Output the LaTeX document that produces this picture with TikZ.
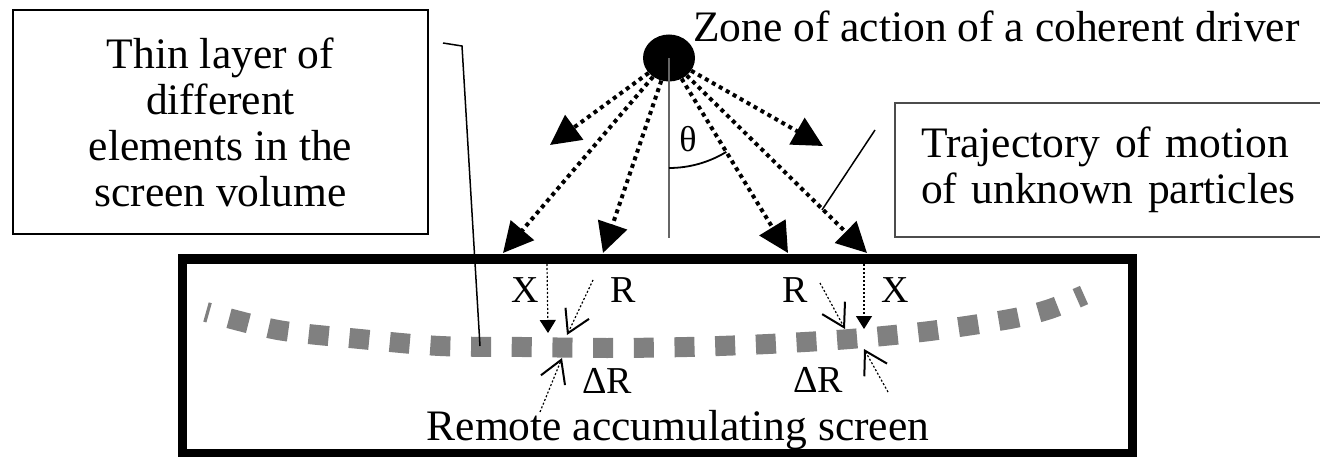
\documentclass[tikz,border=0pt]{standalone}
\usepackage{fontspec}
\setmainfont{Liberation Serif}
\usetikzlibrary{arrows.meta,shapes.geometric}
\definecolor{layergray}{rgb}{0.50,0.50,0.50}
\definecolor{axisgray}{rgb}{0.40,0.40,0.40}
\definecolor{framegray}{rgb}{0.30,0.30,0.30}
\tikzset{
  textbox/.style={
    draw,
    line width=2pt,
    align=center,
    inner sep=0pt,
    font=\fontsize{43.5}{46}\selectfont
  },
  title/.style={
    inner sep=0pt,
    font=\fontsize{43.5}{46}\selectfont
  },
  lbl/.style={
    inner sep=0pt,
    font=\fontsize{38}{40}\selectfont
  },
  ray/.style={
    line width=4pt,
    dash pattern=on 4pt off 4pt,
    -{Triangle[length=30pt,width=30pt]}
  },
  pin/.style={
    line width=1.2pt,
    dash pattern=on 2pt off 2pt,
    -{Triangle[length=13pt,width=16pt]}
  },
  barb/.style={
    line width=1.2pt,
    dash pattern=on 2pt off 2pt,
    -{Straight Barb[length=22pt,width=26pt,line width=2pt]}
  },
  layer/.style={
    layergray,
    line width=20pt,
    dash pattern=on 20pt off 20.7pt,
    dash phase=16.8pt
  }
}

\begin{document}
\begin{tikzpicture}[x=1pt,y=-1pt]
\useasboundingbox (0,0) rectangle (1320,457);

% boxes with explanations
\node[textbox,minimum width=415pt,minimum height=224pt] (thin) at (220.5,122)
  {Thin layer of\\different\\elements in the\\screen volume};
\node[textbox,draw=framegray,anchor=north west,align=left,text width=420pt,
  minimum height=134pt,inner xsep=26pt] (traj) at (894,102)
  {Trajectory of motion\\of unknown particles};

% the driver
\node[ellipse,fill=black,minimum width=52pt,minimum height=47pt,inner sep=0pt] (drv) at (669,58) {};
\node[title,anchor=base west] (zone) at (693,42) {Zone of action of a coherent driver};

% screen
\node[draw,line width=9pt,minimum width=950pt,minimum height=194pt,inner sep=0pt] (screen) at (657,356) {};
\node[title,anchor=base] (remote) at (678,440) {Remote accumulating screen};

% thin layer
\draw[layer] plot[smooth] coordinates {(206,312) (278,330) (360,339) (440,346) (522,347)
  (607,348) (687,347) (768,344) (850,339) (930,331) (1010,319) (1050,309) (1084,295)};

% ray ends
\coordinate (t1) at (550,145);
\coordinate (t2) at (823,146);
\coordinate (t3) at (503,253);
\coordinate (t4) at (603,253);
\coordinate (t5) at (788,253);
\coordinate (t6) at (867,253);
\coordinate (axis) at (669,238);

\draw[axisgray,line width=2.5pt] (drv.center) -- (axis);
\draw[line width=1.8pt] (669,168) arc[start angle=90,end angle=58.6,radius=110];
\node[lbl,font=\fontsize{36}{38}\selectfont] (theta) at (688,139) {θ};

\foreach \t in {t1,t2,t3,t4,t5,t6}
  \draw[ray] (drv) -- (\t);

% leader lines
\coordinate (hook) at (443,43);
\coordinate (bend) at (462,46);
\coordinate (lay) at (480,346);
\draw[line width=1.5pt] (hook) -- (bend) -- (lay);
\coordinate (tr1) at (875,130);
\coordinate (tr2) at (822,210);
\draw[line width=1.5pt] (tr1) -- (tr2);

% left element
\coordinate (xa) at (547,264);
\coordinate (xb) at (548,333);
\coordinate (ra) at (593,280);
\coordinate (rb) at (567,335);
\coordinate (da) at (540,412);
\coordinate (db) at (562,358);
\draw[pin] (xa) -- (xb);
\draw[barb] (ra) -- (rb);
\draw[barb] (da) -- (db);
\node[lbl] (xl) at (525,290) {X};
\node[lbl] (rl) at (623,290) {R};
\node[lbl] (dl) at (607,381) {ΔR};

% right element
\coordinate (xc) at (864,264);
\coordinate (xd) at (864,329);
\coordinate (rc) at (820,283);
\coordinate (rd) at (845,329);
\coordinate (dc) at (888,392);
\coordinate (dd) at (864,349);
\draw[pin] (xc) -- (xd);
\draw[barb] (rc) -- (rd);
\draw[barb] (dc) -- (dd);
\node[lbl] (xr) at (895,290) {X};
\node[lbl] (rr) at (795,290) {R};
\node[lbl] (dr) at (818,380) {ΔR};
\end{tikzpicture}
\end{document}
